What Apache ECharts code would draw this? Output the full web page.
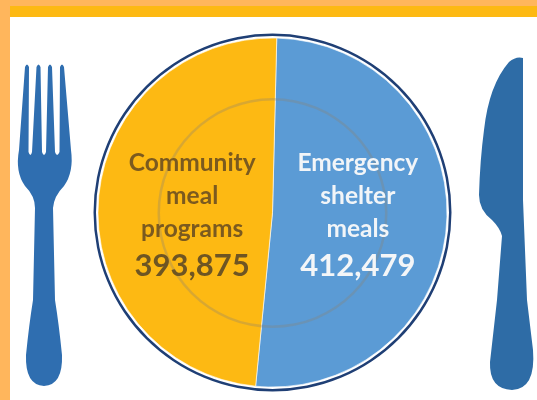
<!DOCTYPE html>
<html>
<head>
<meta charset="utf-8">
<style>html,body{margin:0;padding:0;background:#fff}#c{width:537px;height:400px}</style>
<script src="https://cdn.jsdelivr.net/npm/echarts@6/dist/echarts.min.js"></script>
</head>
<body>
<div id="c"></div>
<script>
const categories = ['Emergency shelter meals', 'Community meal programs'];
const labelLines = [['Emergency', 'shelter', 'meals'], ['Community', 'meal', 'programs']];
const mealValues = [412479, 393875];
const sliceColors = ['#5B9BD5', '#FDB913'];
const labelColors = ['#F2F5F8', '#7B5A1F'];
const numberColors = ['#F4F6F8', '#6E5523'];
const labelOffsets = [[-5, -2], [10, 9]];

const forkPath = 'M25 67 Q27 62 29 67 L28.5 152 Q30.5 158 32 152 L36.5 67 Q38.5 62 40.5 67 L42 152 Q44 158 46 152 L48 67 Q50 62 52 67 L55 152 Q57 158 59.5 152 L60 67 Q62 62 64 67 L71 150 Q74 172 64 186 Q54 196 53 208 L55 300 Q59 325 62 355 Q63 385 44 386 Q25 385 26 355 Q29 325 33 300 L35 208 Q35 196 25 186 Q15 172 19 150 Z';
const knifePath = 'M523 58 L523 200 L527 300 L533 350 Q536 389 512 390 Q489 389 490 362 L497 300 L502 236 Q500 228 492 220 Q479 210 479 195 Q480 160 484 130 Q489 85 509 62 Q516 56 523 58 Z';
echarts.graphic.registerShape('forkShape', echarts.graphic.extendPath(forkPath, {}));
echarts.graphic.registerShape('knifeShape', echarts.graphic.extendPath(knifePath, {}));

const chart = echarts.init(document.getElementById('c'), null, {renderer: 'canvas'});
chart.setOption({
  animation: false,
  backgroundColor: '#ffffff',
  graphic: [
    {type: 'rect', z: 0, shape: {x: 0, y: 0, width: 537, height: 6}, style: {fill: '#FFB65C'}},
    {type: 'rect', z: 0, shape: {x: 10, y: 6, width: 527, height: 11}, style: {fill: '#FDB913'}},
    {type: 'rect', z: 0, shape: {x: 0, y: 0, width: 10, height: 400}, style: {fill: '#FFB65C'}},
    {type: 'forkShape', z: 1, style: {fill: '#2F6EB0'}},
    {type: 'knifeShape', z: 1, style: {fill: '#2E6CA6'}}
  ],
  series: [
    {
      type: 'pie', silent: true, center: [272.5, 212.5], radius: [176.5, 179],
      label: {show: false}, labelLine: {show: false},
      data: [{value: 1, itemStyle: {color: '#1F3F75'}}]
    },
    {
      type: 'pie', silent: true, center: [272.5, 212.5], radius: [0, 174.5],
      startAngle: 88.6, clockwise: true, z: 2,
      itemStyle: {borderColor: '#ffffff', borderWidth: 0.6},
      labelLine: {show: false},
      label: {show: false},
      data: categories.map((name, i) => ({name, value: mealValues[i], itemStyle: {color: sliceColors[i]}}))
    },
    {
      type: 'pie', silent: true, center: [272.5, 213], radius: [112.5, 115], z: 3,
      label: {show: false}, labelLine: {show: false},
      data: [{value: 1, itemStyle: {color: 'rgba(140,130,115,0.32)'}}]
    },
    {
      type: 'pie', silent: true, center: [272.5, 213], radius: [0, 175], z: 4,
      startAngle: 88.6, clockwise: true,
      labelLine: {show: false},
      data: categories.map((name, i) => ({
        name, value: mealValues[i],
        itemStyle: {color: 'rgba(0,0,0,0)'},
        label: {
          show: true, position: 'inner', offset: labelOffsets[i],
          fontFamily: 'Lato', fontWeight: 'bold', align: 'center',
          formatter: labelLines[i].join('\n') + '\n{n|' + mealValues[i].toLocaleString('en-US') + '}',
          color: labelColors[i], fontSize: 24.5, lineHeight: 33,
          rich: {n: {fontFamily: 'Lato', fontWeight: 'bold', fontSize: 31, lineHeight: 41, color: numberColors[i]}}
        }
      }))
    }
  ]
});
</script>
</body>
</html>
